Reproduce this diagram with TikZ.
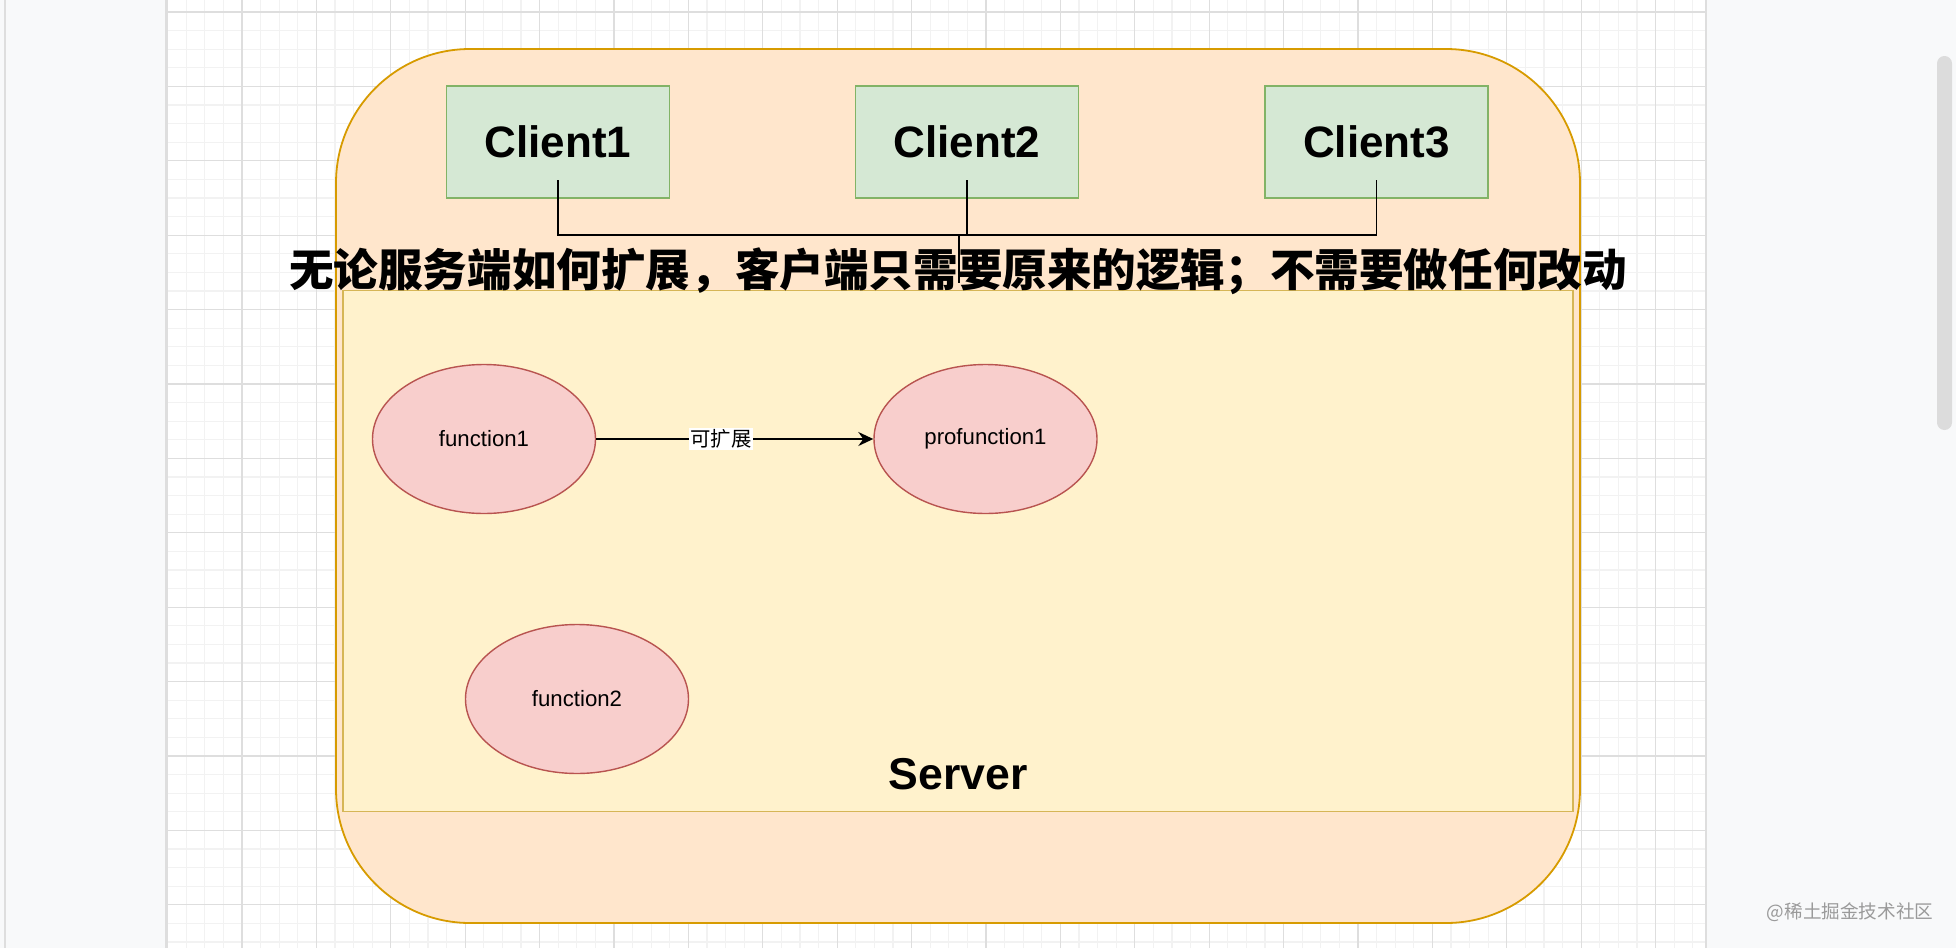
\documentclass[tikz,border=0pt]{standalone}
\usepackage{fontspec}
\setmainfont{Liberation Sans}
\newfontfamily\cjk{Noto Sans CJK SC}
\usetikzlibrary{arrows.meta,shapes.geometric,positioning}
\definecolor{panelgray}{HTML}{F8F9FA}
\definecolor{gridminor}{HTML}{F2F2F2}
\definecolor{gridmajor}{HTML}{DEDEDE}
\definecolor{scrollgray}{HTML}{DCDCDC}
\definecolor{outerfill}{HTML}{FFE6CC}
\definecolor{outerline}{HTML}{D79B00}
\definecolor{innerfill}{HTML}{FFF2CC}
\definecolor{innerline}{HTML}{D6B656}
\definecolor{clientfill}{HTML}{D5E8D4}
\definecolor{clientline}{HTML}{82B366}
\definecolor{funcfill}{HTML}{F8CECC}
\definecolor{funcline}{HTML}{B85450}
\definecolor{wmgray}{HTML}{9A9A9A}

\begin{document}
\begin{tikzpicture}[x=0.5pt,y=-0.5pt]
\tikzset{
  clientbox/.style={draw=clientline,fill=clientfill,line width=0.8pt,minimum width=111.5pt,minimum height=56pt,inner sep=0pt,font=\fontsize{22}{26}\selectfont\bfseries},
  serverbox/.style={draw=innerline,fill=innerfill,line width=0.8pt,minimum width=615pt,minimum height=260.5pt,inner sep=0pt},
  funcnode/.style={ellipse,draw=funcline,fill=funcfill,line width=0.7pt,minimum width=111.5pt,minimum height=74.5pt,inner sep=0pt,font=\fontsize{11.1}{13}\selectfont},
  bigtext/.style={font=\fontsize{22.3}{26}\selectfont\bfseries},
  link/.style={line width=0.9pt},
  extarrow/.style={-{Stealth[length=7.5pt,width=7pt,inset=2.5pt]},line width=0.9pt}
}
\useasboundingbox (0,0) rectangle (1956,948);
% editor background
\fill[panelgray] (0,0) rectangle (1956,948);
\draw[gridmajor,line width=0.6pt] (5,0) -- (5,948);
\fill[white] (166,0) rectangle (1706,948);
\foreach \i in {0,...,82}
  \draw[gridminor,line width=0.6pt] ({167.6+18.6*\i},0) -- ({167.6+18.6*\i},948);
\foreach \j in {0,...,50}
  \draw[gridminor,line width=0.6pt] (166,{12+18.6*\j}) -- (1706,{12+18.6*\j});
\foreach \i in {0,...,20}
  \draw[gridmajor,line width=0.6pt] ({167.6+74.4*\i},0) -- ({167.6+74.4*\i},948);
\foreach \j in {0,...,12}
  \draw[gridmajor,line width=0.6pt] (166,{12+74.4*\j}) -- (1706,{12+74.4*\j});
\draw[gridmajor,line width=0.8pt] (166,0) -- (166,948);
\draw[gridmajor,line width=0.8pt] (1706,0) -- (1706,948);
\fill[scrollgray,rounded corners=3.7pt] (1937,56) rectangle (1952,430);
% outer container
\draw[outerline,fill=outerfill,line width=0.9pt,rounded corners=67pt] (336,49) rectangle (1580,923);
\node[serverbox] (n_server) at (958,551) {};
% clients
\node[clientbox] (n_client1) at (558,142) {Client1};
\node[clientbox] (n_client2) at (967,142) {Client2};
\node[clientbox] (n_client3) at (1376.5,142) {Client3};
\coordinate (j_top) at (959,235);
\coordinate (j_end) at (959,283);
\draw[link] ([yshift=-19pt]n_client1.center) |- (j_top) -- (j_end);
\draw[link] ([yshift=-19pt]n_client2.center) |- (j_top);
\draw[link] ([yshift=-19pt]n_client3.center) |- (j_top);
% functions
\node[funcnode] (n_func1) at (484,439) {function1};
\node[funcnode] (n_profunc1) at (985.5,439) {profunction1};
\node[funcnode] (n_func2) at (577,699) {function2};
\draw[extarrow] (n_func1) -- node[pos=0.45,fill=white,inner sep=0.6pt,font=\cjk\fontsize{10.2}{12}\selectfont] {可扩展} (n_profunc1);
% labels
\node[bigtext,font=\cjk\bfseries\fontsize{22.3}{26}\selectfont] (n_title) at (958,271) {无论服务端如何扩展，客户端只需要原来的逻辑；不需要做任何改动};
\node[bigtext] (n_serverlabel) at (958,774) {Server};
\node[text=wmgray,font=\cjk\fontsize{9.3}{11}\selectfont] (n_mark) at (1850,912) {@稀土掘金技术社区};
\end{tikzpicture}
\end{document}
